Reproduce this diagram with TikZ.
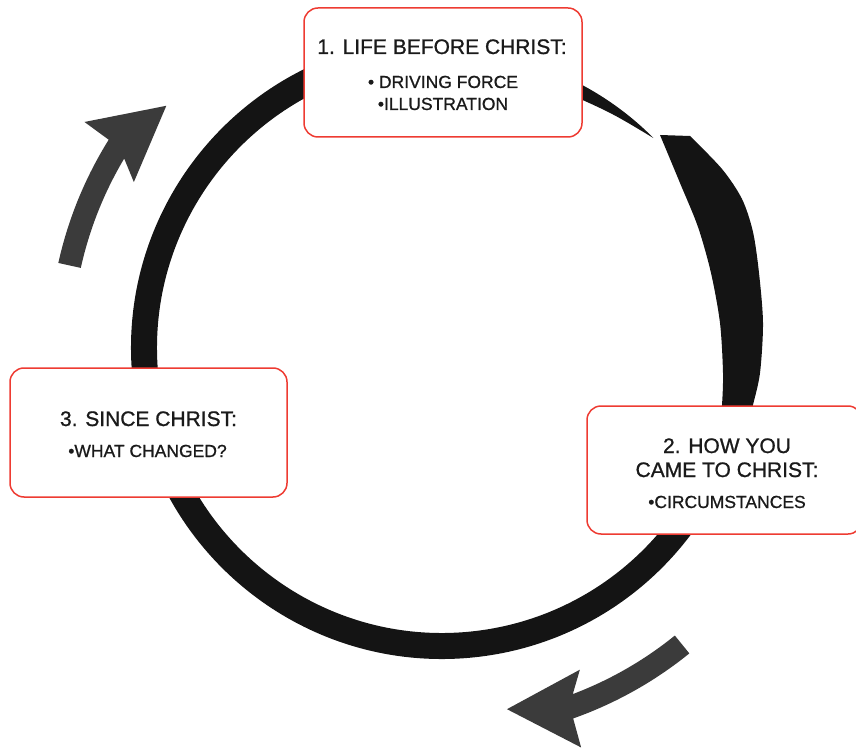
\documentclass[tikz,border=0pt]{standalone}
\usepackage{fontspec}
\setmainfont{Liberation Sans}[FakeBold=0.9]
\usepackage{xcolor}
\usetikzlibrary{positioning}
\definecolor{ringInk}{HTML}{141414}
\definecolor{turnInk}{HTML}{3B3B3B}
\definecolor{boxRed}{HTML}{EE3B32}
\definecolor{textInk}{HTML}{1A1A1A}

\begin{document}
\begin{tikzpicture}[x=1pt, y=1pt,
    box/.style={draw=boxRed, line width=1.5pt, fill=white, rounded corners=14pt, inner sep=0pt},
    head/.style={font=\fontsize{21}{25}\selectfont, text=textInk, anchor=base},
    item/.style={font=\fontsize{17.5}{21}\selectfont, text=textInk, anchor=base}]
  \useasboundingbox (0,0) rectangle (856,748);
  \clip (0,0) rectangle (856,748);
  \coordinate (cc) at (442,400);
  \begin{scope}[shift={(cc)}]
    % ring
    \draw[ringInk, line width=26pt] (95:298pt) arc[start angle=95, end angle=340, radius=298pt];
    % thin tail
    \fill[ringInk] (64:298pt) arc[start angle=64, end angle=44.8, radius=298pt]
      .. controls (54:290pt) .. (64:284pt) -- cycle;
    % turning arrows
    \foreach \a in {167.5,-51}
      \fill[turnInk] (\a:393pt) arc[start angle=\a, delta angle=-19.5, radius=393pt]
        -- ({\a-19.8}:423pt) -- ({\a-28.8}:367pt) -- ({\a-15.8}:350pt) -- ({\a-18.3}:370pt)
        arc[start angle={\a-18.3}, delta angle=18.3, radius=370pt] -- cycle;
  \end{scope}
  % thick brush part
  \fill[ringInk] plot[smooth] coordinates {(690,612) (722,579) (742,549) (753,516) (759,475) (763,425) (760,375) (753,343) (750,330)}
    -- plot[smooth] coordinates {(720,330) (722,343) (723,375) (720,425) (711,475) (698,521) (680,565) (660,613)} -- cycle;

  \node[box, minimum width=278pt, minimum height=129pt] (life) at (443,675.5) {};
  \node[head] (lifeHead) at (442,694) {1. LIFE BEFORE CHRIST:};
  \node[item] (lifeA) at (443,660) {• DRIVING FORCE};
  \node[item] (lifeB) at (443,638) {•ILLUSTRATION};

  \node[box, minimum width=275pt, minimum height=128pt] (came) at (724.5,278) {};
  \node[head] (cameHeadA) at (727,295) {2. HOW YOU};
  \node[head] (cameHeadB) at (727,271) {CAME TO CHRIST:};
  \node[item] (cameA) at (727,240) {•CIRCUMSTANCES};

  \node[box, minimum width=277pt, minimum height=129pt] (since) at (148.5,315.5) {};
  \node[head] (sinceHead) at (148.5,322) {3. SINCE CHRIST:};
  \node[item] (sinceA) at (147.5,291) {•WHAT CHANGED?};
\end{tikzpicture}
\end{document}
